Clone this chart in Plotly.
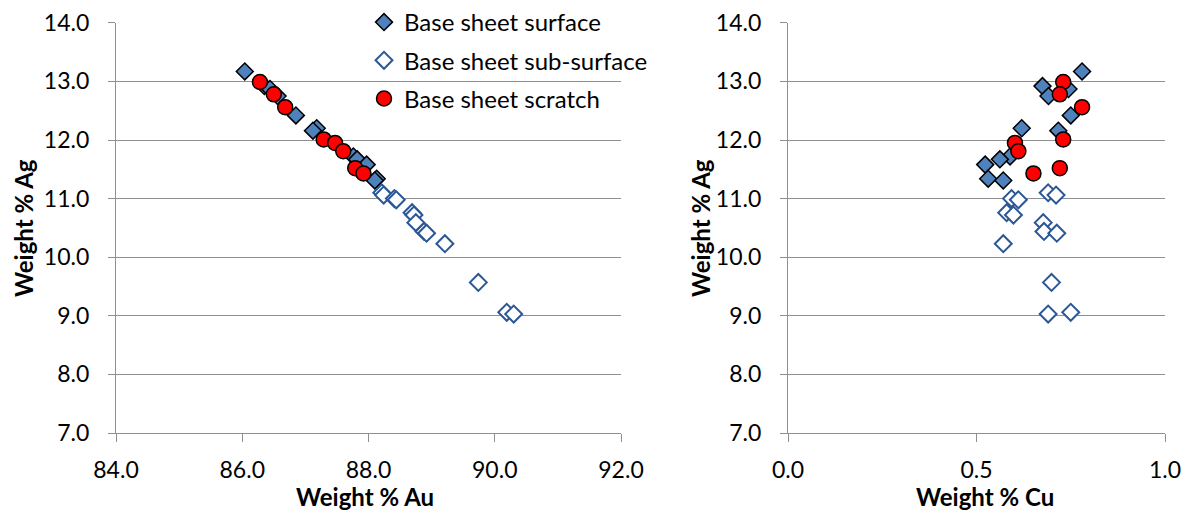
import plotly.graph_objects as go

# ---- data ----
surface_au = [86.04, 86.35, 86.44, 86.56, 86.85, 87.18, 87.12, 87.76, 87.82, 87.97, 88.13, 88.10]
surface_ag = [13.17, 12.92, 12.87, 12.75, 12.42, 12.20, 12.16, 11.72, 11.67, 11.58, 11.34, 11.31]
surface_cu = [0.780, 0.675, 0.744, 0.691, 0.750, 0.620, 0.717, 0.589, 0.562, 0.523, 0.531, 0.571]

subsurface_au = [88.21, 88.24, 88.41, 88.44, 88.69, 88.72, 88.75, 88.88, 88.92, 89.21, 89.74, 90.19, 90.30]
subsurface_ag = [11.10, 11.06, 11.00, 10.98, 10.76, 10.72, 10.59, 10.44, 10.41, 10.23, 9.57, 9.06, 9.03]
subsurface_cu = [0.690, 0.711, 0.593, 0.611, 0.580, 0.598, 0.677, 0.679, 0.713, 0.571, 0.699, 0.750, 0.690]

scratch_au = [86.28, 86.50, 86.68, 87.29, 87.47, 87.60, 87.79, 87.92]
scratch_ag = [12.99, 12.78, 12.56, 12.01, 11.95, 11.81, 11.52, 11.43]
scratch_cu = [0.730, 0.721, 0.780, 0.730, 0.602, 0.611, 0.721, 0.651]

series_names = ["Base sheet surface", "Base sheet sub-surface", "Base sheet scratch"]
x_title_left = "Weight % Au"
x_title_right = "Weight % Cu"
y_title = "Weight % Ag"

# ---- styles ----
W, H = 1191, 511
FONT = "Lato"
FS = 23
GRID = "#8f8f8f"
BLUE = "#4F81BD"
DARKBLUE = "#2B5797"
RED = "#FF0000"

styles = [
    dict(symbol="diamond", size=13, color=BLUE, line=dict(color="black", width=1.5)),
    dict(symbol="diamond", size=13, color="white", line=dict(color=DARKBLUE, width=2)),
    dict(symbol="circle", size=15, color=RED, line=dict(color="black", width=1.5)),
]

fig = go.Figure()
left = [(surface_au, surface_ag), (subsurface_au, subsurface_ag), (scratch_au, scratch_ag)]
right = [(surface_cu, surface_ag), (subsurface_cu, subsurface_ag), (scratch_cu, scratch_ag)]
for i, (name, (xs, ys)) in enumerate(zip(series_names, left)):
    fig.add_trace(go.Scatter(x=xs, y=ys, mode="markers", name=name, marker=styles[i],
                             legendgroup=name, xaxis="x", yaxis="y"))
for i, (name, (xs, ys)) in enumerate(zip(series_names, right)):
    fig.add_trace(go.Scatter(x=xs, y=ys, mode="markers", name=name, marker=styles[i],
                             legendgroup=name, showlegend=False, xaxis="x2", yaxis="y2"))

def px_x(p):
    return p / W

def px_y(p):
    return (H - p) / H

tickfont = dict(family=FONT, size=FS, color="black")
common_x = dict(showgrid=False, showline=True, linecolor=GRID, linewidth=1.3,
                ticks="outside", ticklen=8, tickwidth=1.3, tickcolor=GRID,
                zeroline=False, tickfont=tickfont, tickformat=".1f",
                ticklabelstandoff=8, ticklabeloverflow="allow",
                fixedrange=True, automargin=False)
common_y = dict(showgrid=True, gridcolor=GRID, gridwidth=1.3, showline=True, linecolor=GRID,
                linewidth=1.3, ticks="outside", ticklen=7, tickwidth=1.3, tickcolor=GRID,
                zeroline=False, tickfont=tickfont, tickformat=".1f", range=[7, 14.002], dtick=1,
                ticklabelstandoff=14, ticklabeloverflow="allow",
                fixedrange=True, automargin=False)

y_dom = [px_y(433), px_y(22.7)]
fig.update_layout(
    width=W, height=H,
    margin=dict(l=0, r=0, t=0, b=0, autoexpand=False),
    paper_bgcolor="white", plot_bgcolor="white",
    font=dict(family=FONT, size=FS, color="black"),
    xaxis=dict(domain=[px_x(116), px_x(621)], range=[84, 92], dtick=2, anchor="y", **common_x),
    yaxis=dict(domain=y_dom, anchor="x", **common_y),
    xaxis2=dict(domain=[px_x(788), px_x(1165)], range=[0, 1], dtick=0.5, anchor="y2", **common_x),
    yaxis2=dict(domain=y_dom, anchor="x2", **common_y),
    legend=dict(x=px_x(364), y=1, xanchor="left", yanchor="top",
                font=dict(family=FONT, size=24, color="black"),
                bgcolor="rgba(0,0,0,0)", traceorder="grouped", tracegroupgap=4),
    showlegend=True,
)

ann = dict(xref="paper", yref="paper", showarrow=False,
           font=dict(family=FONT, size=24, color="black", weight="bold"))
fig.add_annotation(text=y_title, x=px_x(23), y=px_y(228), textangle=-90,
                   xanchor="center", yanchor="middle", **ann)
fig.add_annotation(text=y_title, x=px_x(700), y=px_y(228), textangle=-90,
                   xanchor="center", yanchor="middle", **ann)
fig.add_annotation(text=x_title_left, x=px_x(365), y=px_y(496),
                   xanchor="center", yanchor="middle", **ann)
fig.add_annotation(text=x_title_right, x=px_x(985), y=px_y(496),
                   xanchor="center", yanchor="middle", **ann)

# remove the browser's default 8px page margin so the figure fills the window exactly
fig.write_html("out.html", config={"displayModeBar": False},
               post_script="document.body.style.margin='0px';")
